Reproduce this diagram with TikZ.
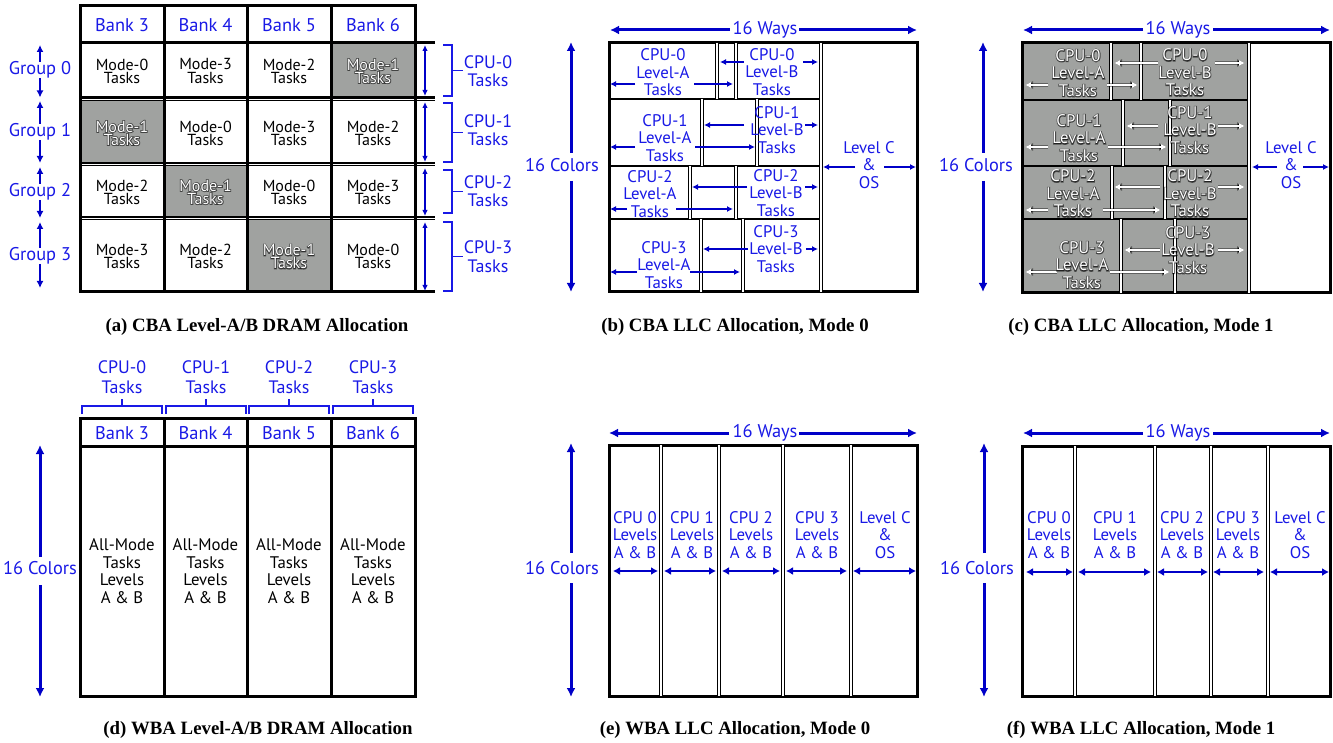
\documentclass[tikz,border=0pt]{standalone}
\usepackage{fontspec}
\setmainfont{Liberation Serif}
\newfontfamily\dsans{PT Sans}
\newfontfamily\dsansglow[FakeBold=10]{PT Sans}
\usetikzlibrary{arrows.meta}
\definecolor{tblue}{RGB}{25,25,230}
\definecolor{ablue}{RGB}{0,0,200}
\definecolor{cellgray}{RGB}{160,162,160}
\tikzset{
 lbl/.style={font=\dsans\fontsize{8.4}{8.75}\selectfont, text=tblue, align=center, inner sep=0pt},
 biglbl/.style={font=\dsans\fontsize{9.2}{9.6}\selectfont, text=tblue, align=center, inner sep=0pt},
 mtxt/.style={font=\dsans\fontsize{8}{6.5}\selectfont, align=center, inner sep=0pt},
 amtxt/.style={font=\dsans\fontsize{8.4}{8.75}\selectfont, align=center, inner sep=0pt},
 gtxt/.style={font=\dsans\fontsize{8.4}{8.75}\selectfont, align=center, inner sep=0pt},
 gtxtglow/.style={font=\dsansglow\fontsize{8.4}{8.75}\selectfont, align=center, inner sep=0pt},
 gmtxt/.style={font=\dsans\fontsize{8}{6.5}\selectfont, align=center, inner sep=0pt},
 gmtxtglow/.style={font=\dsansglow\fontsize{8}{6.5}\selectfont, align=center, inner sep=0pt},
 captxt/.style={font=\bfseries\fontsize{9.4}{10}\selectfont, inner sep=0pt},
 thk/.style={line width=1.5pt},
 sep/.style={line width=1pt},
 dbl/.style={double, line width=0.5pt, double distance=1pt},
 bigarr/.style={ablue, line width=1.5pt, -{Latex[length=4.5pt,width=4.5pt]}},
 midarr/.style={ablue, line width=1pt, -{Latex[length=3.5pt,width=3.5pt]}},
 smallarr/.style={ablue, line width=1pt, -{Latex[length=3pt,width=3pt]}},
 thinarr/.style={ablue, line width=0.6pt, {Latex[length=3pt,width=2.8pt]}-{Latex[length=3pt,width=2.8pt]}},
 colarr/.style={ablue, line width=1.2pt, {Latex[length=3.5pt,width=4pt]}-{Latex[length=3.5pt,width=4pt]}},
 glowarr/.style={black, draw opacity=0.4, line width=2.2pt, -{Latex[length=4pt,width=4.2pt]}},
 whitearr/.style={white, line width=1pt, -{Latex[length=3pt,width=3pt]}},
 brk/.style={tblue, line width=0.7pt},
}
% split horizontal arrow: style, y, x1, g1, g2, x2
\newcommand\hsplitarr[6]{\draw[#1] (#4,#2) -- (#3,#2); \draw[#1] (#5,#2) -- (#6,#2);}
% split vertical arrow: style, x, y1, g1, g2, y2
\newcommand\vsplitarr[6]{\draw[#1] (#2,#4) -- (#2,#3); \draw[#1] (#2,#5) -- (#2,#6);}
\newcommand\ghsplitarr[5]{\hsplitarr{glowarr}{#1}{#2}{#3}{#4}{#5}\hsplitarr{whitearr}{#1}{#2}{#3}{#4}{#5}}
% glowing white text: style, name, position, text
\newcommand\glowtext[4]{%
  \node[#1glow, text=black, text opacity=0.55] (#2glow) at #3 {#4};
  \node[#1, text=white] (#2) at #3 {#4};}
\begin{document}
\begin{tikzpicture}[x=0.5pt,y=-0.5pt]
\useasboundingbox (0,0) rectangle (1333,743);
\fill[white] (0,0) rectangle (1333,743);

%% ================= (a) =================
\fill[cellgray] (331,43) rectangle (415,98);
\fill[cellgray] (80,100) rectangle (164,163);
\fill[cellgray] (164,166) rectangle (247,217);
\fill[cellgray] (247,220) rectangle (331,292);
\draw[thk] (80,6) rectangle (415,292);
\foreach \xx in {164,247,331} \draw[thk] (\xx,6) -- (\xx,292);
\draw[thk] (80,43) -- (435,43);
\draw[thk] (80,292) -- (435,292);
\foreach \yy in {97.5,163,217}{
  \draw[line width=1.2pt] (80,\yy) -- (435,\yy);
  \draw[line width=0.5pt] (80,\yy+3) -- (435,\yy+3);}
\foreach \bk/\xx in {3/122,4/205.5,5/289,6/373}
  \node[biglbl] (abank\bk) at (\xx,25) {Bank \bk};
% cells
\node[mtxt] (a00) at (122,71) {Mode-0\\Tasks};
\node[mtxt] (a01) at (205.5,71) {Mode-3\\Tasks};
\node[mtxt] (a02) at (289,71) {Mode-2\\Tasks};
\glowtext{gmtxt}{a03}{(373,71)}{Mode-1\\Tasks}
\glowtext{gmtxt}{a10}{(122,133)}{Mode-1\\Tasks}
\node[mtxt] (a11) at (205.5,133) {Mode-0\\Tasks};
\node[mtxt] (a12) at (289,133) {Mode-3\\Tasks};
\node[mtxt] (a13) at (373,133) {Mode-2\\Tasks};
\node[mtxt] (a20) at (122,192) {Mode-2\\Tasks};
\glowtext{gmtxt}{a21}{(205.5,192)}{Mode-1\\Tasks}
\node[mtxt] (a22) at (289,192) {Mode-0\\Tasks};
\node[mtxt] (a23) at (373,192) {Mode-3\\Tasks};
\node[mtxt] (a30) at (122,256.5) {Mode-3\\Tasks};
\node[mtxt] (a31) at (205.5,256.5) {Mode-2\\Tasks};
\glowtext{gmtxt}{a32}{(289,256.5)}{Mode-1\\Tasks}
\node[mtxt] (a33) at (373,256.5) {Mode-0\\Tasks};
% groups
\node[biglbl] (g0) at (40,70) {Group 0};
\node[biglbl] (g1) at (40,132) {Group 1};
\node[biglbl] (g2) at (40,192) {Group 2};
\node[biglbl] (g3) at (40,256) {Group 3};
\vsplitarr{midarr}{40}{45}{62}{78}{97.5}
\vsplitarr{midarr}{40}{101}{124}{140}{163}
\vsplitarr{midarr}{40}{167}{184}{200}{218}
\vsplitarr{midarr}{40}{222}{248}{264}{288}
% right arrows and brackets
\draw[thinarr] (425,45) -- (425,96);
\draw[thinarr] (425,102) -- (425,162);
\draw[thinarr] (425,168) -- (425,216);
\draw[thinarr] (425,222) -- (425,291);
\foreach \ya/\yb/\nm/\ly in {45/96/0/71, 103/162/1/130, 170/213/2/191.5, 222/291/3/256.5}{
  \draw[brk] (443,\ya) -- (452,\ya) -- (452,\yb) -- (443,\yb);
  \draw[brk] (452,{(\ya+\yb)/2}) -- (463,{(\ya+\yb)/2});
  \node[biglbl, font=\dsans\fontsize{9}{9.2}\selectfont] (acpu\nm) at (488,\ly) {CPU-\nm\\Tasks};
}
\node[captxt] (capa) at (257,327) {(a) CBA Level-A/B DRAM Allocation};

%% ================= (b) =================
\draw[thk] (609,43) rectangle (917,292);
\draw[dbl] (820.5,43) -- (820.5,292);
\foreach \yy in {99,166,219} \draw[sep] (609,\yy) -- (819,\yy);
\draw[dbl] (717,43) -- (717,99);   \draw[dbl] (736,43) -- (736,99);
\draw[dbl] (702,99) -- (702,166);  \draw[dbl] (757,99) -- (757,166);
\draw[dbl] (690,166) -- (690,219); \draw[dbl] (736,166) -- (736,219);
\draw[dbl] (700.5,219) -- (700.5,292); \draw[dbl] (742.5,219) -- (742.5,292);
\node[lbl] (b0a) at (663,72.5) {CPU-0\\Level-A\\Tasks};
\node[lbl] (b0b) at (772,72) {CPU-0\\Level-B\\Tasks};
\node[lbl] (b1a) at (665,138) {CPU-1\\Level-A\\Tasks};
\node[lbl] (b1b) at (777,130) {CPU-1\\Level-B\\Tasks};
\node[lbl] (b2a) at (650,194) {CPU-2\\Level-A\\Tasks};
\node[lbl] (b2b) at (776,193) {CPU-2\\Level-B\\Tasks};
\node[lbl] (b3a) at (664,265) {CPU-3\\Level-A\\Tasks};
\node[lbl] (b3b) at (776,249) {CPU-3\\Level-B\\Tasks};
\node[lbl] (bc) at (869,165) {Level C\\\&\\OS};
\hsplitarr{smallarr}{84}{610}{635}{694}{733}
\hsplitarr{smallarr}{62}{720}{744}{803}{818}
\hsplitarr{smallarr}{147}{610}{635}{695}{755}
\hsplitarr{smallarr}{125}{704}{744}{805}{818}
\hsplitarr{smallarr}{209}{610}{627}{676}{733}
\hsplitarr{smallarr}{187}{692}{747}{805}{818}
\hsplitarr{smallarr}{272}{610}{637}{690}{740}
\hsplitarr{smallarr}{249}{703}{748}{806}{818}
\hsplitarr{smallarr}{167}{823}{855}{884}{916}
\node[biglbl] (bways) at (765,30) {16 Ways};
\hsplitarr{bigarr}{30}{610}{730}{799}{917}
\node[biglbl] (bcol) at (562,165) {16 Colors};
\vsplitarr{bigarr}{571}{42}{153}{181}{292}
\node[captxt] (capb) at (735,327) {(b) CBA LLC Allocation, Mode 0};

%% ================= (c) =================
\fill[cellgray] (1022,43) rectangle (1249,293);
\draw[thk] (1022,43) rectangle (1330,293);
\draw[dbl] (1249,43) -- (1249,293);
\foreach \yy in {100,166,219} \draw[sep] (1022,\yy) -- (1248,\yy);
\draw[dbl] (1110.5,43) -- (1110.5,100); \draw[dbl] (1141,43) -- (1141,100);
\draw[dbl] (1123,100) -- (1123,166);    \draw[dbl] (1170,100) -- (1170,166);
\draw[dbl] (1111.5,166) -- (1111.5,219); \draw[dbl] (1164.5,166) -- (1164.5,219);
\draw[dbl] (1121,219) -- (1121,293);    \draw[dbl] (1175,219) -- (1175,293);
\ghsplitarr{85}{1025}{1048}{1107}{1138}
\ghsplitarr{63}{1114}{1158}{1215}{1245}
\ghsplitarr{147}{1025}{1048}{1108}{1167}
\ghsplitarr{126}{1126}{1158}{1218}{1245}
\ghsplitarr{210}{1025}{1048}{1103}{1161}
\ghsplitarr{187}{1114}{1160}{1218}{1245}
\ghsplitarr{272}{1025}{1057}{1110}{1170}
\ghsplitarr{250}{1124}{1160}{1218}{1245}
\glowtext{gtxt}{c0a}{(1078,73)}{CPU-0\\Level-A\\Tasks}
\glowtext{gtxt}{c0b}{(1185,72.5)}{CPU-0\\Level-B\\Tasks}
\glowtext{gtxt}{c1a}{(1079,138)}{CPU-1\\Level-A\\Tasks}
\glowtext{gtxt}{c1b}{(1190,130)}{CPU-1\\Level-B\\Tasks}
\glowtext{gtxt}{c2a}{(1073,193.5)}{CPU-2\\Level-A\\Tasks}
\glowtext{gtxt}{c2b}{(1190,193.5)}{CPU-2\\Level-B\\Tasks}
\glowtext{gtxt}{c3a}{(1082,265)}{CPU-3\\Level-A\\Tasks}
\glowtext{gtxt}{c3b}{(1188,250)}{CPU-3\\Level-B\\Tasks}
\node[lbl] (cc) at (1291,165) {Level C\\\&\\OS};
\hsplitarr{smallarr}{167}{1252}{1277}{1303}{1329}
\node[biglbl] (cways) at (1178,30) {16 Ways};
\hsplitarr{bigarr}{30}{1023}{1143}{1213}{1330}
\node[biglbl] (ccol) at (976,165) {16 Colors};
\vsplitarr{bigarr}{983}{42}{153}{181}{292}
\node[captxt] (capc) at (1141,327) {(c) CBA LLC Allocation, Mode 1};

%% ================= (d) =================
\foreach \xa/\xb/\nm in {82/162/0, 166/246/1, 249/329/2, 333/413/3}{
  \draw[brk] (\xa,414) -- (\xa,406) -- (\xb,406) -- (\xb,414);
  \draw[brk] ({(\xa+\xb)/2},406) -- ({(\xa+\xb)/2},399);
  \node[biglbl, font=\dsans\fontsize{9}{9.8}\selectfont] (dcpu\nm) at ({(\xa+\xb)/2},377) {CPU-\nm\\Tasks};
}
\draw[thk] (80,418) rectangle (415,696);
\draw[thk] (80,446) -- (415,446);
\foreach \xx in {164,247,331} \draw[thk] (\xx,418) -- (\xx,696);
\foreach \bk/\xx in {3/122,4/205.5,5/289,6/373}{
  \node[biglbl] (dbank\bk) at (\xx,433) {Bank \bk};
  \node[amtxt] (dall\bk) at (\xx,571) {All-Mode\\Tasks\\Levels\\A \& B};
}
\node[biglbl] (dcol) at (40,568) {16 Colors};
\vsplitarr{bigarr}{40}{445}{557}{585}{697}
\node[captxt] (capd) at (258,730) {(d) WBA Level-A/B DRAM Allocation};

%% ================= (e) =================
\draw[thk] (609,445) rectangle (917,696);
\foreach \xx in {661,718.5,783,850.5} \draw[dbl] (\xx,445) -- (\xx,696);
\node[lbl] (e0) at (635,535) {CPU 0\\Levels\\A \& B};
\node[lbl] (e1) at (692,535) {CPU 1\\Levels\\A \& B};
\node[lbl] (e2) at (751,535) {CPU 2\\Levels\\A \& B};
\node[lbl] (e3) at (817,535) {CPU 3\\Levels\\A \& B};
\node[lbl] (e4) at (885,535) {Level C\\\&\\OS};
\foreach \xa/\xb in {613/658, 664/716, 722/780, 786/847, 853/916}
  \draw[colarr] (\xa,571) -- (\xb,571);
\node[biglbl] (eways) at (765,433) {16 Ways};
\hsplitarr{bigarr}{433}{609}{729}{799}{917}
\node[biglbl] (ecol) at (562,568) {16 Colors};
\vsplitarr{bigarr}{571}{443}{553}{583}{697}
\node[captxt] (cape) at (735,730) {(e) WBA LLC Allocation, Mode 0};

%% ================= (f) =================
\draw[thk] (1022,446) rectangle (1330,696);
\foreach \xx in {1075,1154.5,1211,1267.5} \draw[dbl] (\xx,446) -- (\xx,696);
\node[lbl] (f0) at (1049,535) {CPU 0\\Levels\\A \& B};
\node[lbl] (f1) at (1115,535) {CPU 1\\Levels\\A \& B};
\node[lbl] (f2) at (1182,535) {CPU 2\\Levels\\A \& B};
\node[lbl] (f3) at (1238,535) {CPU 3\\Levels\\A \& B};
\node[lbl] (f4) at (1300,535) {Level C\\\&\\OS};
\foreach \xa/\xb in {1026/1073, 1078/1151, 1157/1208, 1213/1264, 1270/1329}
  \draw[colarr] (\xa,572) -- (\xb,572);
\node[biglbl] (fways) at (1178,433) {16 Ways};
\hsplitarr{bigarr}{433}{1023}{1143}{1213}{1330}
\node[biglbl] (fcol) at (977,568) {16 Colors};
\vsplitarr{bigarr}{984}{443}{553}{583}{697}
\node[captxt] (capf) at (1141,730) {(f) WBA LLC Allocation, Mode 1};
\end{tikzpicture}
\end{document}
